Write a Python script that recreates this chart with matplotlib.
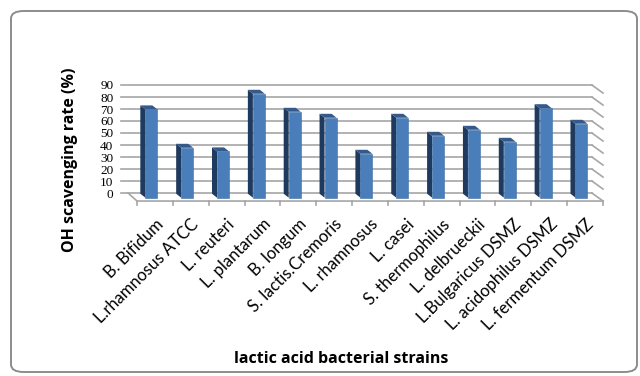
import matplotlib
matplotlib.use("Agg")
import matplotlib.pyplot as plt
from matplotlib.patches import Polygon, FancyBboxPatch

# data
strains = ["B. Bifidum", "L.rhamnosus ATCC", "L. reuteri", "L. plantarum",
           "B. longum", "S. lactis.Cremoris", "L. rhamnosus", "L. casei",
           "S. thermophilus", "L. delbrueckii", "L.Bulgaricus DSMZ",
           "L. acidophilus DSMZ", "L. fermentum DSMZ"]
oh_rate = [73, 41, 38, 86, 71, 66, 36, 66, 51, 56, 46, 74, 61]
yticks = [0, 10, 20, 30, 40, 50, 60, 70, 80, 90]

W, H = 640, 376
fig = plt.figure(figsize=(W / 100, H / 100), dpi=100)

# rounded frame round the whole chart
frame = FancyBboxPatch((11 / W, 4 / H), 626 / W, 361 / H,
                       boxstyle="round,pad=0,rounding_size=0.02",
                       transform=fig.transFigure, fill=False,
                       edgecolor="#8c8c8c", linewidth=1.4)
fig.patches.append(frame)

# axes: x front floor 137..603 px, y back wall 0 -> 193 px, 90 -> 85 px
ymin, ymax = -10, 92
px_per = (193 - 85) / 90.0
bot_px = 193 + (0 - ymin) * px_per
top_px = 85 - (ymax - 90) * px_per
ax = fig.add_axes([137 / W, 1 - bot_px / H, (603 - 137) / W, (bot_px - top_px) / H])
ax.set_xlim(-0.5, len(strains) - 0.5)
ax.set_ylim(ymin, ymax)
for s in ax.spines.values():
    s.set_visible(False)

n = len(strains)
grid_c = "#a6a6a6"
floor_y = -6.7
back_l, back_r = -0.95, n - 0.5 - 0.31

# back wall gridlines + right side wall
for t in yticks:
    ax.plot([back_l, back_r], [t, t], color=grid_c, lw=1.2, clip_on=False, zorder=1)
    ax.plot([back_r, n - 0.5], [t, t + floor_y], color=grid_c, lw=1.2, clip_on=False, zorder=1)

# floor edges and ticks
ax.plot([-0.75, -0.5, n - 0.5], [0, floor_y, floor_y], color=grid_c, lw=1.2, clip_on=False, zorder=1)
for k in range(n + 1):
    ax.plot([k - 0.5, k - 0.5], [floor_y, floor_y - 3.3], color=grid_c, lw=1.2, clip_on=False, zorder=1)

# 3d looking columns
bw = 0.335
dx, dy = 0.14, 3.3
base = -3.9
for i, v in enumerate(oh_rate):
    x0 = i - 0.1 - bw / 2
    x1 = x0 + bw
    top = v - dy
    side = Polygon([(x0, base), (x0, top), (x0 - dx, top + dy), (x0 - dx, base + dy)],
                   closed=True, facecolor="#1f3a5f", edgecolor="none", zorder=3)
    cap = Polygon([(x0, top), (x1, top), (x1 - dx, top + dy), (x0 - dx, top + dy)],
                  closed=True, facecolor="#34598a", edgecolor="none", zorder=3)
    ax.add_patch(side)
    ax.add_patch(cap)
    ax.bar(x0, top - base, bottom=base, width=bw, align="edge",
           color="#4a7ebb", edgecolor="#3f6fa8", linewidth=0.4, zorder=4)

ax.set_yticks(yticks)
ax.set_yticklabels([str(t) for t in yticks], fontfamily="Liberation Serif", fontsize=9.5)
ax.tick_params(axis="y", length=0, pad=17)

ax.set_xticks(range(n))
ax.set_xticklabels(strains, rotation=45, ha="right", va="top",
                   rotation_mode="anchor", fontfamily="Lato", fontsize=12)
ax.tick_params(axis="x", length=0, pad=8)

fig.text(70 / W, 1 - 160 / H, "OH scavenging rate (%)", rotation=90,
         ha="center", va="center", fontsize=11.5, fontweight="bold", fontfamily="Open Sans")
fig.text(341 / W, 1 - 359 / H, "lactic acid bacterial strains",
         ha="center", va="center", fontsize=11.5, fontweight="bold", fontfamily="Open Sans")

fig.savefig("out.png", dpi=100)
